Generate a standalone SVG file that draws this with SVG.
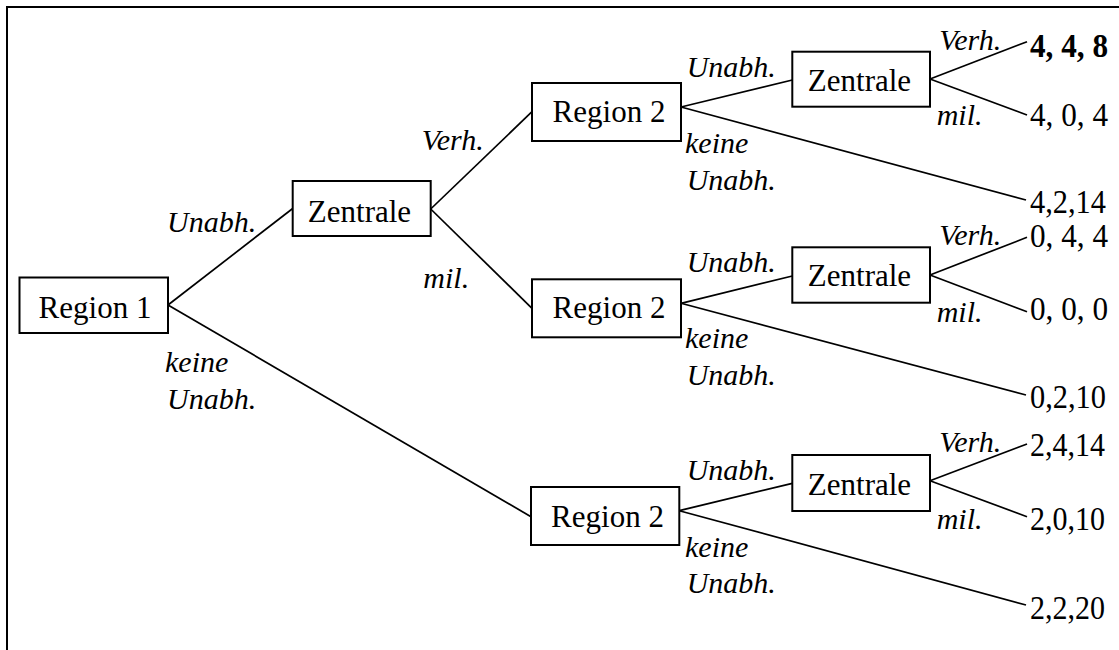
<svg xmlns="http://www.w3.org/2000/svg" width="1119" height="650" viewBox="0 0 1119 650">
<style>
.box{fill:#fff;stroke:#000;stroke-width:2}
.t{font-family:"Liberation Serif","Times New Roman",serif;font-size:31px;fill:#000}
.c{text-anchor:middle}
.l{font-family:"Liberation Serif","Times New Roman",serif;font-size:30px;font-style:italic;fill:#000}
.p{font-family:"Liberation Serif","Times New Roman",serif;font-size:33px;fill:#000}
.b{font-weight:bold}
#connectors line{stroke:#000;stroke-width:1.7}
</style>
<rect width="1119" height="650" fill="#fff"/>
<path d="M7,650 V7 H1119" fill="none" stroke="#000" stroke-width="2"/>
<g id="connectors">
<line x1="168" y1="305" x2="292.7" y2="208.5"/>
<line x1="168" y1="305" x2="531" y2="516.7"/>
<line x1="430.7" y1="209" x2="532" y2="111.7"/>
<line x1="430.7" y1="209" x2="532" y2="308.3"/>
<line x1="681" y1="107" x2="792.3" y2="80"/>
<line x1="681" y1="107" x2="1026" y2="200"/>
<line x1="930" y1="79" x2="1027" y2="41.7"/>
<line x1="930" y1="79" x2="1027" y2="115"/>
<line x1="681" y1="303.3" x2="792.3" y2="276"/>
<line x1="681" y1="303.3" x2="1026" y2="395"/>
<line x1="930" y1="275" x2="1027" y2="237.3"/>
<line x1="930" y1="275" x2="1027" y2="311.7"/>
<line x1="679.3" y1="510.7" x2="792.3" y2="483.3"/>
<line x1="679.3" y1="510.7" x2="1026" y2="605"/>
<line x1="930" y1="480.7" x2="1027" y2="444"/>
<line x1="930" y1="480.7" x2="1027" y2="516.7"/>
</g>
<g id="labels">
<text class="l" x="167" y="231.7">Unabh.</text>
<text class="l" x="165" y="372">keine</text>
<text class="l" x="167" y="408.5">Unabh.</text>
<text class="l" x="421.7" y="150">Verh.</text>
<text class="l" x="423.3" y="287.7">mil.</text>
<text class="l" x="686.7" y="76.7">Unabh.</text>
<text class="l" x="685" y="153.3">keine</text>
<text class="l" x="686.7" y="190">Unabh.</text>
<text class="l" x="686.7" y="271.7">Unabh.</text>
<text class="l" x="685" y="348.3">keine</text>
<text class="l" x="686.7" y="385">Unabh.</text>
<text class="l" x="686.7" y="480">Unabh.</text>
<text class="l" x="685" y="556.7">keine</text>
<text class="l" x="686.7" y="592.7">Unabh.</text>
<text class="l" x="939.3" y="50">Verh.</text>
<text class="l" x="936.7" y="125">mil.</text>
<text class="l" x="939.3" y="245">Verh.</text>
<text class="l" x="936.7" y="321.7">mil.</text>
<text class="l" x="939.3" y="451.7">Verh.</text>
<text class="l" x="936.7" y="529.3">mil.</text>
</g>
<g id="region1"><rect class="box" x="19.5" y="277.5" width="148.5" height="55.5"/><text class="t c" x="95" y="318">Region 1</text></g>
<g id="zentrale1"><rect class="box" x="292.7" y="181" width="138" height="55"/><text class="t c" x="359.5" y="221.7">Zentrale</text></g>
<g id="region2a"><rect class="box" x="532" y="83" width="149" height="58"/><text class="t c" x="609" y="121.7">Region 2</text></g>
<g id="region2b"><rect class="box" x="532" y="279.3" width="149" height="58"/><text class="t c" x="609" y="318.3">Region 2</text></g>
<g id="region2c"><rect class="box" x="531" y="487" width="148.3" height="58"/><text class="t c" x="607.5" y="526.7">Region 2</text></g>
<g id="zentrale2a"><rect class="box" x="792.3" y="51.7" width="137.7" height="55"/><text class="t c" x="859.5" y="90.7">Zentrale</text></g>
<g id="zentrale2b"><rect class="box" x="792.3" y="247.3" width="137.7" height="55.4"/><text class="t c" x="859.5" y="286">Zentrale</text></g>
<g id="zentrale2c"><rect class="box" x="792.3" y="455" width="137.7" height="56"/><text class="t c" x="859.5" y="495">Zentrale</text></g>
<g id="payoffs">
<text class="p b" x="1030" y="57.3" textLength="78" lengthAdjust="spacingAndGlyphs">4, 4, 8</text>
<text class="p" x="1030" y="126" textLength="78" lengthAdjust="spacingAndGlyphs">4, 0, 4</text>
<text class="p" x="1030" y="213.3" textLength="76" lengthAdjust="spacingAndGlyphs">4,2,14</text>
<text class="p" x="1030" y="246.7" textLength="78" lengthAdjust="spacingAndGlyphs">0, 4, 4</text>
<text class="p" x="1030" y="320" textLength="78" lengthAdjust="spacingAndGlyphs">0, 0, 0</text>
<text class="p" x="1030" y="408.3" textLength="76" lengthAdjust="spacingAndGlyphs">0,2,10</text>
<text class="p" x="1030" y="456" textLength="75" lengthAdjust="spacingAndGlyphs">2,4,14</text>
<text class="p" x="1030" y="530" textLength="75" lengthAdjust="spacingAndGlyphs">2,0,10</text>
<text class="p" x="1030" y="619.3" textLength="75" lengthAdjust="spacingAndGlyphs">2,2,20</text>
</g>
</svg>
